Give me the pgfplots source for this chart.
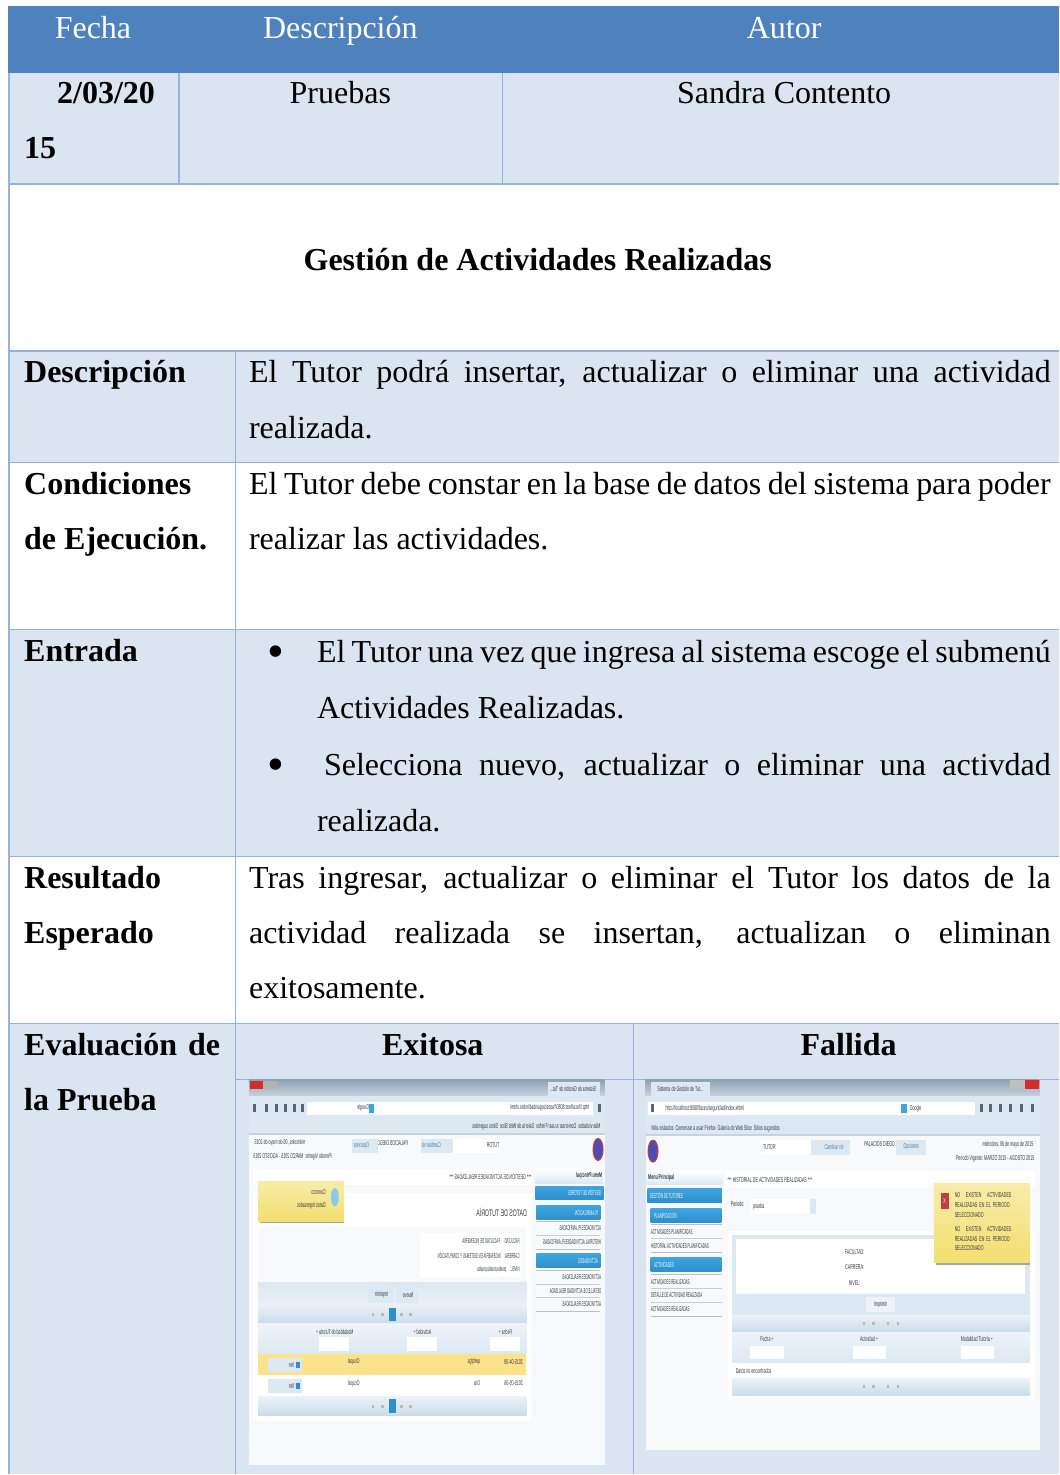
\documentclass[border=0pt]{standalone}
\usepackage{fontspec}
\setmainfont{Liberation Serif}
\newfontfamily\shotfont{Liberation Sans}
\usepackage{pgfplots}
\pgfplotsset{compat=1.18}
\definecolor{hdr}{HTML}{4F81BD}
\definecolor{lite}{HTML}{DBE5F1}
\definecolor{rule}{HTML}{95B3D7}
\definecolor{band}{HTML}{DCE8F2}
\definecolor{bandd}{HTML}{C9DCEB}
\definecolor{barA}{HTML}{8FA3B3}
\definecolor{barB}{HTML}{C5D3DE}
\definecolor{sky}{HTML}{3DA5E0}
\definecolor{skyd}{HTML}{2E8FCB}
\definecolor{popup}{HTML}{F3DF70}
\definecolor{rowy}{HTML}{FBE38C}
\definecolor{shot}{HTML}{F7F9FB}
\definecolor{stxt}{HTML}{33383D}
\definecolor{lnk}{HTML}{4A7FA5}
\definecolor{ico}{HTML}{5A6670}
\newcommand{\R}[5]{\addplot[fill=#5,draw=none,forget plot] coordinates {(#1,#2) (#3,#2) (#3,#4) (#1,#4)} --cycle;}
\newcommand{\G}[6]{\addplot[top color=#5,bottom color=#6,draw=none,forget plot] coordinates {(#1,#2) (#3,#2) (#3,#4) (#1,#4)} --cycle;}
\newcommand{\Ln}[4]{\addplot[rule,line width=1.4pt,forget plot] coordinates {(#1,#2) (#3,#4)};}
\newcommand{\BigT}{\fontsize{32}{32}\selectfont}
% base-aligned text on the page grid
\newcommand{\TL}[3]{\node[anchor=base west,inner sep=0pt,yshift=-1pt] at (axis cs:#1,#2) {\BigT #3};}
\newcommand{\TC}[3]{\node[anchor=base,inner sep=0pt,yshift=-1pt] at (axis cs:#1,#2) {\BigT #3};}
\newcommand{\TJ}[4]{\node[anchor=base west,inner sep=0pt,yshift=-1pt] at (axis cs:#1,#2) {\BigT\makebox[#3pt][s]{#4}};}
\newcommand{\TB}[2]{\node[anchor=center,inner sep=0pt,yshift=-5pt] at (axis cs:#1,#2) {\fontsize{48}{48}\selectfont\textbullet};}
% screenshot text
\newcommand{\sz}{\shotfont\fontsize{7}{7}\selectfont}
\newcommand{\SL}[4][stxt]{\node[anchor=west,inner sep=0pt,text=#1] at (axis cs:#2,#3) {\sz\scalebox{.52}[1]{#4}};}
\newcommand{\SC}[4][stxt]{\node[anchor=center,inner sep=0pt,text=#1] at (axis cs:#2,#3) {\sz\scalebox{.52}[1]{#4}};}
\newcommand{\SR}[4][stxt]{\node[anchor=east,inner sep=0pt,text=#1] at (axis cs:#2,#3) {\sz\scalebox{.52}[1]{#4}};}
\newcommand{\SM}[4][stxt]{\node[anchor=west,inner sep=0pt,text=#1] at (axis cs:#2,#3) {\sz\scalebox{.42}[1]{#4}};}
% mirrored
\newcommand{\MC}[4][stxt]{\node[anchor=center,inner sep=0pt,text=#1] at (axis cs:#2,#3) {\sz\scalebox{-.52}[1]{#4}};}
\newcommand{\MR}[4][stxt]{\node[anchor=east,inner sep=0pt,text=#1] at (axis cs:#2,#3) {\sz\scalebox{-.52}[1]{#4}};}
\newcommand{\MM}[4][stxt]{\node[anchor=east,inner sep=0pt,text=#1] at (axis cs:#2,#3) {\sz\scalebox{-.42}[1]{#4}};}
\newcommand{\Ic}[2]{\R{#1}{#2}{\the\numexpr#1+9\relax}{\the\numexpr#2+22\relax}{ico}}
\newcommand{\Dt}[2]{\R{#1}{#2}{\the\numexpr#1+8\relax}{\the\numexpr#2+8\relax}{gray!55}}
\pgfplotsset{page/.style={hide axis,scale only axis,y dir=reverse,clip=false}}
\begin{document}
\begin{tikzpicture}
\begin{axis}[page,at={(0pt,0pt)},anchor=south west,width=1059pt,height=1475pt,xmin=0,xmax=1059,ymin=0,ymax=1475]
\R{0}{0}{1059}{1475}{white}
\R{8}{6}{1059}{73}{hdr}
\R{9}{73}{1059}{184}{lite}
\R{9}{351}{1059}{463}{lite}
\R{9}{630}{1059}{857}{lite}
\R{9}{1024}{1059}{1475}{lite}
\Ln{9}{73}{9}{1475}
\Ln{9}{184}{1059}{184}
\Ln{9}{351}{1059}{351}
\Ln{9}{463}{1059}{463}
\Ln{9}{630}{1059}{630}
\Ln{9}{857}{1059}{857}
\Ln{9}{1024}{1059}{1024}
\Ln{179}{73}{179}{184}
\Ln{502.5}{73}{502.5}{184}
\Ln{235.5}{351}{235.5}{1475}
\Ln{633.5}{1024}{633.5}{1475}
\Ln{235}{1080}{1059}{1080}
\node[anchor=base,inner sep=0pt,text=white,yshift=-2pt] at (axis cs:93,37) {\BigT Fecha};
\node[anchor=base,inner sep=0pt,text=white,yshift=-2pt] at (axis cs:340.5,37) {\BigT Descripción};
\node[anchor=base,inner sep=0pt,text=white,yshift=-2pt] at (axis cs:784.5,37) {\BigT Autor};
\TL{57}{103}{\textbf{2/03/20}}
\TL{24}{158}{\textbf{15}}
\TC{340.5}{103}{Pruebas}
\TC{784.5}{103}{Sandra Contento}
\TC{538}{270}{\textbf{Gestión de Actividades Realizadas}}
\TL{24}{382}{\textbf{Descripción}}
\TJ{249}{382}{802}{El Tutor podrá insertar, actualizar o eliminar una actividad}
\TL{249}{438}{realizada.}
\TL{24}{494}{\textbf{Condiciones}}
\TL{24}{549}{\textbf{de Ejecución.}}
\TJ{249}{494}{802}{El Tutor debe constar en la base de datos del sistema para poder}
\TL{249}{549}{realizar las actividades.}
\TL{24}{661}{\textbf{Entrada}}
\TB{276}{652}
\TJ{317}{662}{734}{El Tutor una vez que ingresa al sistema escoge el submenú}
\TL{317}{718}{Actividades Realizadas.}
\TB{276}{765}
\TJ{324}{775}{727}{Selecciona nuevo, actualizar o eliminar una activdad}
\TL{317}{831}{realizada.}
\TL{24}{888}{\textbf{Resultado}}
\TL{24}{943}{\textbf{Esperado}}
\TJ{249}{888}{802}{Tras ingresar, actualizar o eliminar el Tutor los datos de la}
\TJ{249}{943}{802}{actividad realizada se insertan, actualizan o eliminan}
\TL{249}{998}{exitosamente.}
\TJ{24}{1055}{196}{\textbf{Evaluación de}}
\TL{24}{1110}{\textbf{la Prueba}}
\TC{433}{1055}{\textbf{Exitosa}}
\TC{849}{1055}{\textbf{Fallida}}
\end{axis}
% ---------- mirrored screenshot (coordinates are 3x crop of x 240..620, y 1070..1475)
\begin{axis}[page,at={(240pt,0pt)},anchor=south west,width=380pt,height=405pt,xmin=0,xmax=1140,ymin=0,ymax=1215]
\R{27}{30}{1095}{1187}{shot}
\G{27}{30}{1095}{80}{barA}{barB}
\R{30}{35}{70}{60}{red!65!gray}
\R{70}{35}{110}{60}{gray!60}
\R{925}{38}{1082}{80}{band}
\MC{1000}{58}{Sistema de Gestión de Tut...}
\R{27}{80}{1095}{192}{band}
\R{205}{98}{1060}{136}{white}
\R{200}{98}{345}{136}{white}
\R{388}{103}{402}{130}{sky}
\Ic{40}{105}\Ic{75}{105}\Ic{105}{105}\Ic{132}{105}\Ic{160}{105}\Ic{183}{105}\Ic{1075}{105}
\MC{930}{116}{http://localhost:8080/faces/seguridad/index.xhtml}
\MC{370}{116}{Google}
\MC{890}{173}{Más visitados \ Comenzar a usar Firefox \ Galería de Web Slice \ Sitios sugeridos}
\R{27}{192}{1095}{196}{barB}
\draw[fill=blue!40!gray,draw=red!50!gray,line width=1pt] (axis cs:1075,240) ellipse [x radius=5pt,y radius=11pt];
\R{640}{208}{780}{250}{white}
\R{545}{208}{640}{250}{band}
\MC{760}{228}{TUTOR}
\MC[lnk]{575}{228}{Cambiar rol}
\MC{458}{222}{PALACIOS DIEGO}
\R{335}{208}{415}{252}{band}
\MC[lnk]{365}{228}{Opciones}
\MC{120}{220}{miércoles, 06 de mayo de 2015}
\MC{158}{262}{Periodo Vigente: MARZO 2015 - AGOSTO 2015}
% menu
\G{885}{298}{1090}{342}{white}{band}
\MR{1088}{320}{\textbf{Menu Principal}}
\G{887}{350}{1092}{390}{sky}{skyd}
\MM[white]{1085}{369}{GESTIÓN DE TUTORES}
\G{890}{408}{1082}{450}{sky}{skyd}
\MM[white]{1075}{429}{PLANIFICACIÓN}
\R{888}{455}{1082}{457}{gray!50}
\MM{1085}{477}{ACTIVIDADES PLANIFICADAS}
\R{888}{497}{1082}{499}{gray!40}
\MM{1085}{518}{HISTORIAL ACTIVIDADES PLANIFICADAS}
\R{888}{540}{1082}{542}{gray!50}
\G{890}{553}{1082}{595}{sky}{skyd}
\MM[white]{1075}{574}{ACTIVIDADES}
\R{888}{602}{1082}{604}{gray!50}
\MM{1085}{623}{ACTIVIDADES REALIZADAS}
\R{888}{643}{1082}{645}{gray!40}
\MM{1085}{664}{DETALLE DE ACTIVIDAD REALIZADA}
\R{888}{684}{1082}{686}{gray!40}
\MM{1085}{705}{ACTIVIDADES REALIZADAS}
\R{888}{725}{1082}{727}{gray!50}
% main
\R{40}{298}{875}{348}{white}
\MR{875}{322}{*** GESTIÓN DE ACTIVIDADES REALIZADAS ***}
\R{40}{370}{875}{1055}{white}
\node[anchor=east,inner sep=0pt,text=stxt] at (axis cs:862,430) {\shotfont\fontsize{9.5}{9.5}\selectfont\scalebox{-.55}[1]{DATOS DE TUTORÍA}};
\R{55}{472}{860}{640}{shot}
\R{540}{490}{845}{622}{white}
\MM{840}{514}{FACULTAD: \quad FACULTAD DE INGENIERÍA}
\MM{840}{557}{CARRERA: \quad INGENIERÍA EN SISTEMAS Y COMPUTACIÓN}
\MM{840}{600}{NIVEL: \quad prueba prueba prueba}
\G{55}{640}{860}{708}{band}{white!40!band}
\R{385}{652}{460}{700}{band}
\R{468}{652}{535}{700}{band}
\MC{425}{676}{Imprimir}
\MC{505}{676}{Nuevo}
\G{55}{708}{860}{763}{white!40!band}{bandd}
\R{448}{716}{468}{754}{skyd}
\Dt{396}{731}\Dt{424}{731}\Dt{482}{731}\Dt{508}{731}
\G{55}{763}{860}{853}{white!50!band}{band}
\MC{797}{787}{Fecha ÷}
\MC{548}{787}{Actividad ÷}
\MC{285}{787}{Modalidad de Tutoría ÷}
\R{750}{803}{840}{845}{white}
\R{503}{803}{593}{845}{white}
\R{237}{803}{327}{845}{white}
\R{55}{853}{860}{917}{rowy}
\R{55}{917}{860}{982}{white}
\MR{850}{878}{2015-04-09}
\MR{722}{878}{qwfqfgs}
\MR{360}{878}{Ocupal}
\MR{850}{942}{2015-05-06}
\MR{722}{942}{Gra}
\MR{360}{942}{Ocupal}
\R{85}{867}{187}{907}{band}
\R{85}{930}{187}{970}{band}
\R{168}{878}{180}{896}{skyd}
\R{168}{941}{180}{959}{skyd}
\MC{155}{887}{Ver}
\MC{155}{950}{Ver}
\G{55}{982}{860}{1040}{white!40!band}{bandd}
\R{448}{990}{468}{1030}{skyd}
\Dt{396}{1008}\Dt{424}{1008}\Dt{482}{1008}\Dt{508}{1008}
% popup
\R{60}{448}{312}{462}{gray!70}
\G{55}{335}{312}{455}{popup!60}{popup}
\draw[fill=sky!60!white,draw=none] (axis cs:285,383) ellipse [x radius=4pt,y radius=9pt];
\MR{258}{368}{Correcto}
\MR{258}{410}{Datos Ingresados}
\end{axis}
% ---------- normal screenshot (3x crop of x 635..1059, y 1070..1475)
\begin{axis}[page,at={(635pt,0pt)},anchor=south west,width=424pt,height=405pt,xmin=0,xmax=1272,ymin=0,ymax=1215]
\R{33}{30}{1215}{1143}{shot}
\G{33}{30}{1215}{80}{barA}{barB}
\R{1170}{32}{1212}{60}{red!65!gray}
\R{1125}{32}{1170}{60}{gray!50}
\R{50}{38}{225}{80}{band}
\SC{137}{58}{Sistema de Gestión de Tut...}
\R{33}{80}{1215}{195}{band}
\R{40}{98}{1020}{136}{white}
\R{800}{103}{818}{130}{sky}
\Ic{48}{105}\Ic{1036}{105}\Ic{1064}{105}\Ic{1094}{105}\Ic{1124}{105}\Ic{1155}{105}\Ic{1190}{105}
\SL{92}{117}{http://localhost:8080/faces/seguridad/index.xhtml}
\SL{825}{117}{Google}
\SL{50}{177}{Más visitados \ Comenzar a usar Firefox \ Galería de Web Slice \ Sitios sugeridos}
\R{33}{195}{1215}{200}{barB}
\draw[fill=blue!40!gray,draw=red!50!gray,line width=1pt] (axis cs:55,245) ellipse [x radius=5pt,y radius=11pt];
\R{380}{212}{530}{255}{white}
\R{530}{212}{645}{258}{band}
\SL{385}{233}{TUTOR}
\SC[lnk]{598}{233}{Cambiar rol}
\SC{735}{225}{PALACIOS DIEGO}
\R{785}{212}{875}{258}{band}
\SC[lnk]{830}{233}{Opciones}
\SR{1197}{225}{miércoles, 06 de mayo de 2015}
\SR{1200}{268}{Periodo Vigente: MARZO 2015 - AGOSTO 2015}
% menu
\G{35}{305}{265}{345}{white}{band}
\SL{40}{325}{\textbf{Menu Principal}}
\G{38}{358}{262}{398}{sky}{skyd}
\SM[white]{45}{377}{GESTIÓN DE TUTORES}
\G{48}{418}{260}{458}{sky}{skyd}
\SM[white]{58}{437}{PLANIFICACIÓN}
\R{48}{465}{262}{467}{gray!50}
\SM{48}{487}{ACTIVIDADES PLANIFICADAS}
\R{48}{507}{262}{509}{gray!40}
\SM{48}{530}{HISTORIAL ACTIVIDADES PLANIFICADAS}
\R{48}{549}{262}{551}{gray!50}
\G{48}{565}{260}{607}{sky}{skyd}
\SM[white]{58}{586}{ACTIVIDADES}
\R{48}{615}{262}{617}{gray!50}
\SM{48}{637}{ACTIVIDADES REALIZADAS}
\R{48}{657}{262}{659}{gray!40}
\SM{48}{678}{DETALLE DE ACTIVIDAD REALIZADA}
\R{48}{698}{262}{700}{gray!40}
\SM{48}{720}{ACTIVIDADES REALIZADAS}
\R{48}{741}{262}{743}{gray!50}
% main
\R{275}{305}{1200}{355}{white}
\SL{278}{331}{*** HISTORIAL DE ACTIVIDADES REALIZADAS ***}
\SL{288}{403}{Periodo:}
\R{350}{390}{545}{433}{white}
\R{525}{390}{545}{433}{band}
\SL{355}{413}{prueba}
\R{280}{485}{1200}{990}{white}
\R{293}{497}{1185}{680}{band}
\R{305}{510}{1170}{675}{white}
\SC{660}{548}{FACULTAD:}
\SC{660}{593}{CARRERA:}
\SC{660}{640}{NIVEL:}
\R{293}{680}{1185}{738}{band}
\R{695}{682}{780}{728}{white!50!band}
\SC{738}{705}{Imprimir}
\G{293}{738}{1185}{788}{white!40!band}{bandd}
\Dt{684}{758}\Dt{712}{758}\Dt{756}{758}\Dt{786}{758}
\G{293}{788}{1185}{880}{white!50!band}{band}
\SC{397}{810}{Fecha ÷}
\SC{703}{810}{Actividad ÷}
\SC{1027}{810}{Modalidad Tutoría ÷}
\R{347}{830}{448}{870}{white}
\R{655}{830}{755}{870}{white}
\R{978}{830}{1078}{870}{white}
\SL{303}{905}{Datos no encontrados}
\G{293}{928}{1185}{978}{white!40!band}{bandd}
\Dt{684}{948}\Dt{712}{948}\Dt{756}{948}\Dt{786}{948}
% popup
\R{903}{570}{1185}{588}{gray!70}
\G{898}{342}{1185}{580}{popup!60}{popup}
\R{918}{370}{942}{418}{red!50!gray}
\SC[white]{930}{394}{X}
\SL{960}{377}{NO \quad\ EXISTEN \quad\ ACTIVIDADES}
\SL{960}{407}{REALIZADAS \ EN \ EL \ PERIODO}
\SL{960}{436}{SELECCIONADO}
\SL{960}{479}{NO \quad\ EXISTEN \quad\ ACTIVIDADES}
\SL{960}{508}{REALIZADAS \ EN \ EL \ PERIODO}
\SL{960}{536}{SELECCIONADO}
\end{axis}
\end{tikzpicture}
\end{document}
